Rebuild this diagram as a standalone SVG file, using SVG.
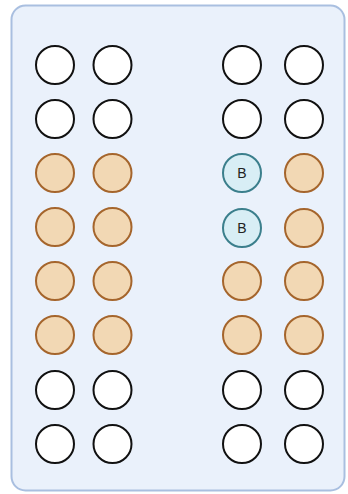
<svg xmlns="http://www.w3.org/2000/svg" width="348" height="494" viewBox="0 0 348 494">
<style>
.w{fill:#ffffff;stroke:#111111;stroke-width:2}
.o{fill:#f2d8b4;stroke:#a5652c;stroke-width:2}
.b{fill:#d8eef5;stroke:#3b7f8c;stroke-width:2}
.t{font-family:"Liberation Sans",Arial,sans-serif;font-size:14px;fill:#222;text-anchor:middle;dominant-baseline:central}
</style>
<rect x="11.5" y="5.5" width="333" height="485" rx="14" fill="#eaf1fb" stroke="#a9bfe0" stroke-width="2"/>
<g id="left">
<circle class="w" cx="55" cy="65" r="19"/><circle class="w" cx="112.5" cy="65" r="19"/>
<circle class="w" cx="55" cy="119" r="19"/><circle class="w" cx="112.5" cy="119" r="19"/>
<circle class="o" cx="55" cy="173" r="19"/><circle class="o" cx="112.5" cy="173" r="19"/>
<circle class="o" cx="55" cy="227" r="19"/><circle class="o" cx="112.5" cy="227" r="19"/>
<circle class="o" cx="55" cy="281" r="19"/><circle class="o" cx="112.5" cy="281" r="19"/>
<circle class="o" cx="55" cy="335" r="19"/><circle class="o" cx="112.5" cy="335" r="19"/>
<circle class="w" cx="55" cy="390" r="19"/><circle class="w" cx="112.5" cy="390" r="19"/>
<circle class="w" cx="55" cy="444" r="19"/><circle class="w" cx="112.5" cy="444" r="19"/>
</g>
<g id="right">
<circle class="w" cx="242" cy="65" r="19"/><circle class="w" cx="304" cy="65" r="19"/>
<circle class="w" cx="242" cy="119" r="19"/><circle class="w" cx="304" cy="119" r="19"/>
<g id="b1"><circle class="b" cx="242" cy="173" r="19"/><text class="t" x="242" y="173">B</text></g>
<circle class="o" cx="304" cy="173" r="19"/>
<g id="b2"><circle class="b" cx="242" cy="228" r="19"/><text class="t" x="242" y="228">B</text></g>
<circle class="o" cx="304" cy="228" r="19"/>
<circle class="o" cx="242" cy="281" r="19"/><circle class="o" cx="304" cy="281" r="19"/>
<circle class="o" cx="242" cy="335" r="19"/><circle class="o" cx="304" cy="335" r="19"/>
<circle class="w" cx="242" cy="390" r="19"/><circle class="w" cx="304" cy="390" r="19"/>
<circle class="w" cx="242" cy="444" r="19"/><circle class="w" cx="304" cy="444" r="19"/>
</g>
<g id="connectors"/>
</svg>
